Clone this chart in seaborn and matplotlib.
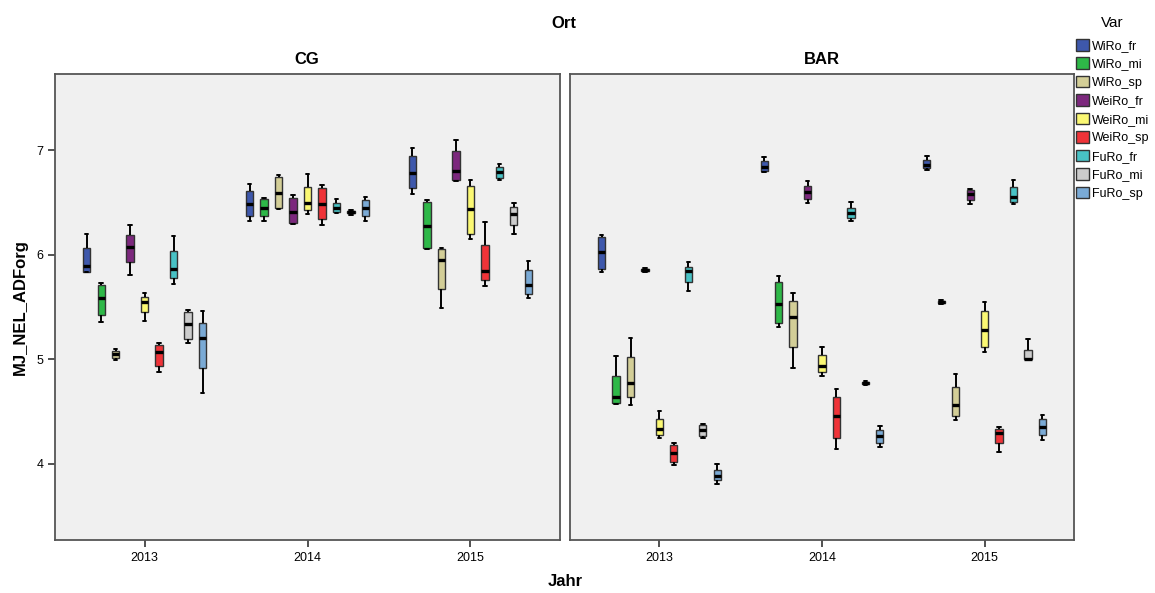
import numpy as np
import pandas as pd
import matplotlib
matplotlib.use("Agg")
import matplotlib.pyplot as plt
import seaborn as sns
from matplotlib.patches import Patch

years = ["2013", "2014", "2015"]
orte = ["CG", "BAR"]
varieties = ["WiRo_fr", "WiRo_mi", "WiRo_sp", "WeiRo_fr", "WeiRo_mi",
             "WeiRo_sp", "FuRo_fr", "FuRo_mi", "FuRo_sp"]
colors = ["#3E58AC", "#2EB848", "#D3CE97", "#7C287D", "#FBF873",
          "#EF3338", "#48C2C5", "#CCCCCC", "#7AAAD5"]

# five observations per box (min, q1, median, q3, max), per year 2013/2014/2015
cg_WiRo_fr = [[5.83, 5.837, 5.891, 6.063, 6.197], [6.318, 6.369, 6.484, 6.608, 6.678], [6.582, 6.637, 6.783, 6.943, 7.016]]
cg_WiRo_mi = [[5.353, 5.42, 5.582, 5.706, 5.731], [6.318, 6.366, 6.448, 6.528, 6.544], [6.056, 6.063, 6.273, 6.503, 6.522]]
cg_WiRo_sp = [[4.99, 5.01, 5.05, 5.08, 5.10], [6.44, 6.448, 6.592, 6.742, 6.758], [5.492, 5.674, 5.945, 6.053, 6.066]]
cg_WeiRo_fr = [[5.805, 5.926, 6.073, 6.19, 6.286], [6.29, 6.30, 6.41, 6.538, 6.566], [6.704, 6.71, 6.80, 6.993, 7.096]]
cg_WeiRo_mi = [[5.365, 5.454, 5.55, 5.595, 5.63], [6.388, 6.426, 6.49, 6.643, 6.767], [6.146, 6.20, 6.433, 6.656, 6.713]]
cg_WeiRo_sp = [[4.875, 4.938, 5.07, 5.14, 5.152], [6.286, 6.34, 6.484, 6.637, 6.668], [5.70, 5.754, 5.846, 6.095, 6.315]]
cg_FuRo_fr = [[5.722, 5.773, 5.865, 6.037, 6.178], [6.395, 6.407, 6.448, 6.49, 6.532], [6.71, 6.735, 6.79, 6.84, 6.869]]
cg_FuRo_mi = [[5.152, 5.19, 5.333, 5.451, 5.473], [6.38, 6.395, 6.405, 6.415, 6.43], [6.194, 6.283, 6.388, 6.455, 6.496]]
cg_FuRo_sp = [[4.674, 4.916, 5.20, 5.35, 5.464], [6.324, 6.372, 6.448, 6.519, 6.548], [5.582, 5.62, 5.712, 5.85, 5.936]]

bar_WiRo_fr = [[5.837, 5.862, 6.022, 6.171, 6.187], [6.793, 6.80, 6.84, 6.895, 6.933], [6.81, 6.825, 6.854, 6.904, 6.94]]
bar_WiRo_mi = [[4.57, 4.584, 4.64, 4.842, 5.027], [5.31, 5.35, 5.528, 5.735, 5.80], [5.53, 5.54, 5.55, 5.56, 5.57]]
bar_WiRo_sp = [[4.562, 4.636, 4.77, 5.018, 5.206], [4.92, 5.12, 5.40, 5.556, 5.636], [4.42, 4.457, 4.56, 4.737, 4.854]]
bar_WeiRo_fr = [[5.83, 5.84, 5.85, 5.86, 5.87], [6.497, 6.535, 6.60, 6.653, 6.70], [6.484, 6.519, 6.58, 6.618, 6.627]]
bar_WeiRo_mi = [[4.244, 4.275, 4.33, 4.428, 4.50], [4.842, 4.88, 4.938, 5.04, 5.114], [5.07, 5.12, 5.276, 5.46, 5.547]]
bar_WeiRo_sp = [[3.991, 4.02, 4.106, 4.183, 4.202], [4.139, 4.25, 4.46, 4.642, 4.718], [4.11, 4.196, 4.297, 4.33, 4.352]]
bar_FuRo_fr = [[5.655, 5.741, 5.84, 5.881, 5.932], [6.324, 6.35, 6.395, 6.448, 6.50], [6.48, 6.50, 6.554, 6.65, 6.71]]
bar_FuRo_mi = [[4.244, 4.266, 4.323, 4.368, 4.377], [4.755, 4.76, 4.77, 4.78, 4.79], [4.995, 5.0, 5.005, 5.09, 5.196]]
bar_FuRo_sp = [[3.81, 3.84, 3.883, 3.94, 3.995], [4.16, 4.202, 4.263, 4.323, 4.364], [4.228, 4.272, 4.355, 4.428, 4.464]]

series = {
    "CG": [cg_WiRo_fr, cg_WiRo_mi, cg_WiRo_sp, cg_WeiRo_fr, cg_WeiRo_mi,
           cg_WeiRo_sp, cg_FuRo_fr, cg_FuRo_mi, cg_FuRo_sp],
    "BAR": [bar_WiRo_fr, bar_WiRo_mi, bar_WiRo_sp, bar_WeiRo_fr, bar_WeiRo_mi,
            bar_WeiRo_sp, bar_FuRo_fr, bar_FuRo_mi, bar_FuRo_sp],
}

rows = []
for ort in orte:
    for var, vals in zip(varieties, series[ort]):
        for yr, obs in zip(years, vals):
            for v in obs:
                rows.append({"Ort": ort, "Jahr": yr, "Var": var, "MJ_NEL_ADForg": v})
df = pd.DataFrame(rows)

sns.set_style("white")
plt.rcParams["font.family"] = ["Liberation Sans", "DejaVu Sans"]
plt.rcParams["text.color"] = "black"
plt.rcParams["xtick.color"] = "black"
plt.rcParams["ytick.color"] = "black"

W, H = 1155, 593
fig = plt.figure(figsize=(W / 100, H / 100), dpi=100)
ax1 = fig.add_axes([55 / W, 1 - 540 / H, 505 / W, 466 / H])
ax2 = fig.add_axes([570 / W, 1 - 540 / H, 504 / W, 466 / H])

for ax, ort in zip([ax1, ax2], orte):
    sns.boxplot(data=df[df["Ort"] == ort], x="Jahr", y="MJ_NEL_ADForg", hue="Var",
                order=years, hue_order=varieties, palette=colors, saturation=1,
                width=0.8, gap=0.5, whis=(0, 100), linewidth=1.0,
                linecolor="#333333",
                medianprops=dict(color="black", linewidth=2.4),
                whiskerprops=dict(color="black", linewidth=1.4),
                capprops=dict(color="black", linewidth=1.4),
                legend=False, ax=ax)
    ax.set_facecolor("#F0F0F0")
    ax.set_xlim(-0.55, 2.55)
    ax.set_ylim(3.271, 7.727)
    ax.set_yticks([4, 5, 6, 7])
    ax.set_xlabel("")
    ax.set_ylabel("")
    for sp in ax.spines.values():
        sp.set_color("#555555")
        sp.set_linewidth(1.3)
    ax.tick_params(axis="both", length=5, width=1.2, color="#333333",
                   labelsize=9, labelcolor="black", direction="out",
                   bottom=True, left=True)

ax2.tick_params(axis="y", left=False, labelleft=False)

fig.text(564 / W, 1 - 24 / H, "Ort", ha="center", va="center", fontsize=12, fontweight="bold")
fig.text(307 / W, 1 - 59 / H, "CG", ha="center", va="center", fontsize=12, fontweight="bold")
fig.text(822 / W, 1 - 59 / H, "BAR", ha="center", va="center", fontsize=12, fontweight="bold")
fig.text(565 / W, 1 - 582 / H, "Jahr", ha="center", va="center", fontsize=12, fontweight="bold")
fig.text(20 / W, 1 - 307 / H, "MJ_NEL_ADForg", ha="center", va="center", rotation=90,
         fontsize=12, fontweight="bold")
fig.text(1112 / W, 1 - 23 / H, "Var", ha="center", va="center", fontsize=11)

handles = [Patch(facecolor=c, edgecolor="#333333", linewidth=1.0) for c in colors]
leg = fig.legend(handles, varieties, loc="upper left", bbox_to_anchor=(1076 / W, 1 - 39 / H),
                 frameon=False, fontsize=9,
                 handlelength=1.0, handleheight=1.05, handletextpad=0.25,
                 labelspacing=0.43, borderaxespad=0, borderpad=0)

fig.savefig("out.png", dpi=100)
